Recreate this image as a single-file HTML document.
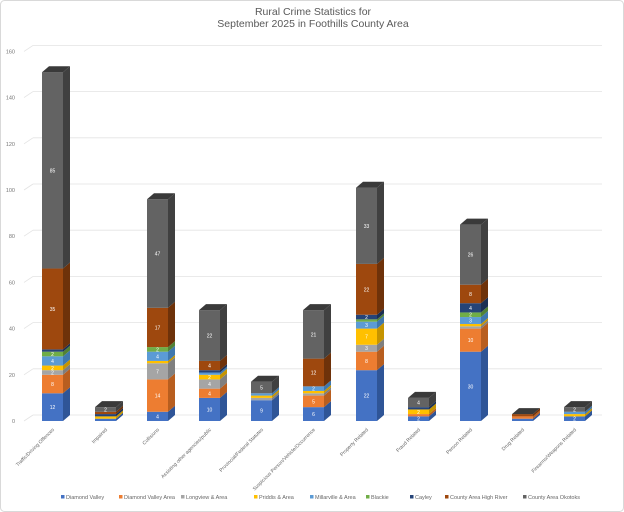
<!DOCTYPE html>
<html><head><meta charset="utf-8">
<style>
html,body{margin:0;padding:0;background:#fff;}
svg{display:block;font-family:"Liberation Sans",sans-serif;}
</style></head>
<body>
<svg id="c" width="624" height="512" viewBox="0 0 624 512" xmlns="http://www.w3.org/2000/svg">
<rect x="0.5" y="0.5" width="623" height="511" rx="4" fill="#fff" stroke="#d9d9d9"/>
<text x="313" y="15" font-size="10.5" text-anchor="middle" fill="#595959">Rural Crime Statistics for</text>
<text x="313" y="27" font-size="10.5" text-anchor="middle" fill="#595959">September 2025 in Foothills County Area</text>
<g id="grid"></g>
<g id="bars"></g>
<g id="cats"></g>
<g id="leg"></g>
</svg>
<script>
var NS="http://www.w3.org/2000/svg";
function el(p,t,a,txt){var e=document.createElementNS(NS,t);for(var k in a)e.setAttribute(k,a[k]);if(txt!==undefined)e.textContent=txt;p.appendChild(e);return e;}
var s=2.31, base=421, dx=7, dy=-6;
var grid=document.getElementById('grid');
for(var v=0;v<=160;v+=20){
  var y=base-v*s;
  el(grid,'line',{x1:24,y1:y,x2:24+dx+2,y2:y+dy,stroke:'#e3e3e3','stroke-width':0.8});
  el(grid,'line',{x1:33,y1:y+dy,x2:602,y2:y+dy,stroke:'#e3e3e3','stroke-width':0.8});
  el(grid,'text',{x:15,y:y+2,'font-size':5.5,'text-anchor':'end',fill:'#777'},String(v));
}
var cols=['#4472c4','#ed7d31','#a5a5a5','#ffc000','#5b9bd5','#70ad47','#264478','#9e480e','#636363'];
var side=['#2f5597','#b85e1f','#7f7f7f','#c59400','#3f78ad','#528235','#1a2f54','#6e320a','#404040'];
var data=[
[12,8,2,2,4,2,1,35,85],
[1,0,0,1,0,0,1,1,2],
[4,14,7,1,4,2,0,17,47],
[10,4,4,2,1,0,1,4,22],
[9,0,1,1,1,0,0,0,5],
[6,5,1,1,2,0,0,12,21],
[22,8,3,7,3,1,2,22,33],
[2,1,0,2,0,0,1,0,4],
[30,10,1,1,3,2,4,8,26],
[1,1,0,0,0,0,0,1,0],
[2,0,0,1,1,0,0,0,2]];
var xs=[42,95,147,199,251,303,356,408,460,512,564];
var cats=['Traffic/Driving Offences','Impaired','Collisions','Assisting other agencies/public','Provincial/Federal Statutes','Suspicious Person/Vehicle/Occurrence','Property Related','Fraud Related','Person Related','Drug Related','Firearms/Weapons Related'];
var W=21, bars=document.getElementById('bars'), cg=document.getElementById('cats');
data.forEach(function(d,i){
  var x=xs[i], cum=0, top=0, lastI=0;
  d.forEach(function(v,j){
    if(!v)return;
    var y0=base-cum*s, y1=base-(cum+v)*s;
    el(bars,'rect',{x:x,y:y1,width:W,height:y0-y1,fill:cols[j]});
    el(bars,'polygon',{points:(x+W)+','+y0+' '+(x+W+dx)+','+(y0+dy)+' '+(x+W+dx)+','+(y1+dy)+' '+(x+W)+','+y1,fill:side[j]});
    if(y0-y1>4) el(bars,'text',{x:x+W/2,y:(y0+y1)/2+2,'font-size':5,'text-anchor':'middle',fill:'#fff'},String(v));
    cum+=v; lastI=j;
  });
  var yt=base-cum*s;
  el(bars,'polygon',{points:x+','+yt+' '+(x+W)+','+yt+' '+(x+W+dx)+','+(yt+dy)+' '+(x+dx)+','+(yt+dy),fill:'#3a3a3a'});
  var cx=x+W/2+2, cy=430;
  el(cg,'text',{x:cx,y:cy,'font-size':5,'text-anchor':'end',fill:'#666',transform:'rotate(-45 '+cx+' '+cy+')'},cats[i]);
});
var names=['Diamond Valley','Diamond Valley Area','Longview & Area','Priddis & Area','Millarville & Area','Blackie','Cayley','County Area High River','County Area Okotoks'];
var lx=[61,119,181,254,310,366,410,445,523], lg=document.getElementById('leg');
names.forEach(function(n,i){
  el(lg,'rect',{x:lx[i],y:495,width:3.5,height:3.5,fill:cols[i]});
  el(lg,'text',{x:lx[i]+5,y:499,'font-size':5.5,fill:'#666'},n);
});
</script>
</body></html>
